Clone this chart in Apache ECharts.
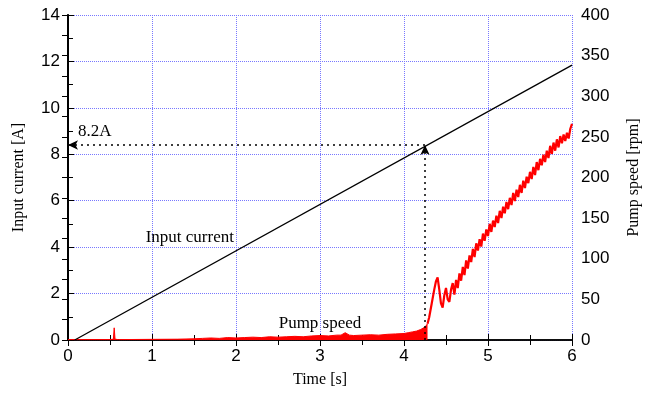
<!DOCTYPE html>
<html><head><meta charset="utf-8">
<script src="https://cdn.jsdelivr.net/npm/echarts@6/dist/echarts.min.js"></script>
<style>html,body{margin:0;padding:0;background:#fff}#c{width:652px;height:395px}</style>
</head><body><div id="c"></div>
<script>
// ---- data ----
var xTicks = [0,1,2,3,4,5,6];
var currentTime = [0.08, 6.0];
var currentValue = [0, 11.84];
// pump speed, low-speed (noisy) part [s], [rpm]
var pumpLowTime = [0,0.5,0.54,0.55,0.56,0.6,1.0,1.3,1.5,1.6,1.7,1.8,1.9,2.0,2.1,2.2,2.3,2.4,2.5,2.6,2.7,2.8,2.9,3.0,3.1,3.2,3.25,3.3,3.35,3.4,3.5,3.6,3.7,3.8,3.9,4.0,4.05,4.1,4.15,4.2,4.25,4.28];
var pumpLowValue = [0.5,0.5,1,15,1,0.5,0.8,1,1.5,2,2.5,2,3,2.5,3,3.5,3,4,3.5,4,4.5,4,5,5.5,5,6,6,9,6,5.5,6,6.5,6,7,7.5,8,9,10,11,13,16,20];
// pump speed, rising part
var pumpHighTime = [4.28,4.30,4.33,4.36,4.38,4.40,4.42,4.44,4.46,4.48,4.50,4.52,4.54,4.56,4.58,4.60,4.62,4.64,4.66,4.68,4.70,4.72,4.74,4.76,4.78,4.80,4.82,4.84,4.86,4.88,4.90,4.92,4.94,4.96,4.98,5.00,5.02,5.04,5.06,5.08,5.10,5.12,5.14,5.16,5.18,5.20,5.22,5.24,5.26,5.28,5.30,5.32,5.34,5.36,5.38,5.40,5.42,5.44,5.46,5.48,5.50,5.52,5.54,5.56,5.58,5.60,5.62,5.64,5.66,5.68,5.70,5.72,5.74,5.76,5.78,5.80,5.82,5.84,5.86,5.88,5.90,5.92,5.94,5.96,5.98,6.00];
var pumpHighValue = [20,28,45,62,72,77,62,45,40,55,64,50,47,62,70,56,74,64,82,73,90,80,98,88,104,96,112,102,119,110,124,115,131,122,136,128,143,133,147,139,153,144,159,150,164,156,170,161,175,166,181,171,185,176,191,181,196,187,201,193,207,198,213,203,219,209,223,215,228,219,233,224,239,229,243,233,247,237,251,242,253,245,255,248,260,266];
var arrowTime = 4.25, arrowCurrent = 8.4;
var notes = [
  {text:'Input current', t:1.45, v:4.4},
  {text:'Pump speed', t:3.0, v:0.73},
  {text:'8.2A', t:0.32, v:9.0}
];

function zip(a,b){return a.map(function(x,i){return [x,b[i]];});}

var serif = '"Liberation Serif","Times New Roman",serif';
var sans = '"Liberation Sans",Arial,sans-serif';
var grid = {type:'dotted', color:'#7878ff', width:1};

var chart = echarts.init(document.getElementById('c'));
chart.setOption({
  animation:false,
  grid:{left:68,right:80,top:15,bottom:55},
  xAxis:[{
    type:'value', min:0, max:6, interval:1, position:'bottom',
    name:'Time [s]', nameLocation:'middle', nameGap:32,
    nameTextStyle:{fontFamily:serif,fontSize:16,color:'#000'},
    axisLine:{lineStyle:{color:'#000',width:1.5}},
    axisTick:{inside:true,length:6,lineStyle:{color:'#000'}},
    minorTick:{show:true,splitNumber:2,length:5,lineStyle:{color:'#000'}},
    axisLabel:{fontFamily:sans,fontSize:17,color:'#000',margin:8},
    splitLine:{show:true,lineStyle:grid}
  },{
    type:'value', min:0, max:6, interval:1, position:'top',
    axisLine:{show:true,lineStyle:{color:'#000',width:1.5}},
    axisTick:{inside:true,length:6,lineStyle:{color:'#000'}},
    minorTick:{show:true,splitNumber:2,length:5,lineStyle:{color:'#000'}},
    axisLabel:{show:false}, splitLine:{show:false}
  }],
  yAxis:[{
    type:'value', min:0, max:14, interval:2, position:'left',
    name:'Input current [A]', nameLocation:'middle', nameGap:41, nameRotate:90,
    nameTextStyle:{fontFamily:serif,fontSize:16,color:'#000'},
    axisLine:{show:true,lineStyle:{color:'#000',width:1.5}},
    axisTick:{inside:true,length:6,lineStyle:{color:'#000'}},
    minorTick:{show:true,splitNumber:2,length:5,lineStyle:{color:'#000'}},
    axisLabel:{fontFamily:sans,fontSize:17,color:'#000',margin:8},
    splitLine:{show:true,lineStyle:grid}
  },{
    type:'value', min:0, max:400, interval:50, position:'right',
    name:'Pump speed [rpm]', nameLocation:'middle', nameGap:54, nameRotate:90,
    nameTextStyle:{fontFamily:serif,fontSize:16,color:'#000'},
    axisLine:{show:true,lineStyle:{color:'#000',width:2}},
    axisTick:{inside:true,length:6,lineStyle:{color:'#000'}},
    minorTick:{show:true,splitNumber:2,length:6,lineStyle:{color:'#000'}},
    axisLabel:{fontFamily:sans,fontSize:17,color:'#000',margin:9},
    splitLine:{show:false}
  }],
  series:[{
    type:'line', yAxisIndex:1, data:zip(pumpLowTime,pumpLowValue),
    showSymbol:false, lineStyle:{color:'#ff0000',width:1}, areaStyle:{color:'#ff0000',opacity:1}, z:3
  },{
    type:'line', yAxisIndex:1, data:zip(pumpHighTime,pumpHighValue),
    showSymbol:false, lineStyle:{color:'#ff0000',width:2.2}, z:3
  },{
    type:'line', yAxisIndex:0, data:zip(currentTime,currentValue),
    showSymbol:false, lineStyle:{color:'#000',width:1.3}, z:4,
    markLine:{
      silent:true, symbol:['none','arrow'], symbolSize:[7,10],
      lineStyle:{type:[2,4],color:'#000',width:1.5}, label:{show:false},
      data:[
        [{coord:[arrowTime,arrowCurrent]},{coord:[0,arrowCurrent]}],
        [{coord:[arrowTime,0]},{coord:[arrowTime,arrowCurrent]}]
      ]
    }
  }]
});
chart.setOption({
  graphic: notes.map(function(n){
    var p = chart.convertToPixel({xAxisIndex:0,yAxisIndex:0},[n.t,n.v]);
    return {type:'text', x:p[0], y:p[1], z:10,
      style:{text:n.text, fill:'#000', font:'17px '+serif, textAlign:'center', textVerticalAlign:'middle'}};
  })
});
</script></body></html>
